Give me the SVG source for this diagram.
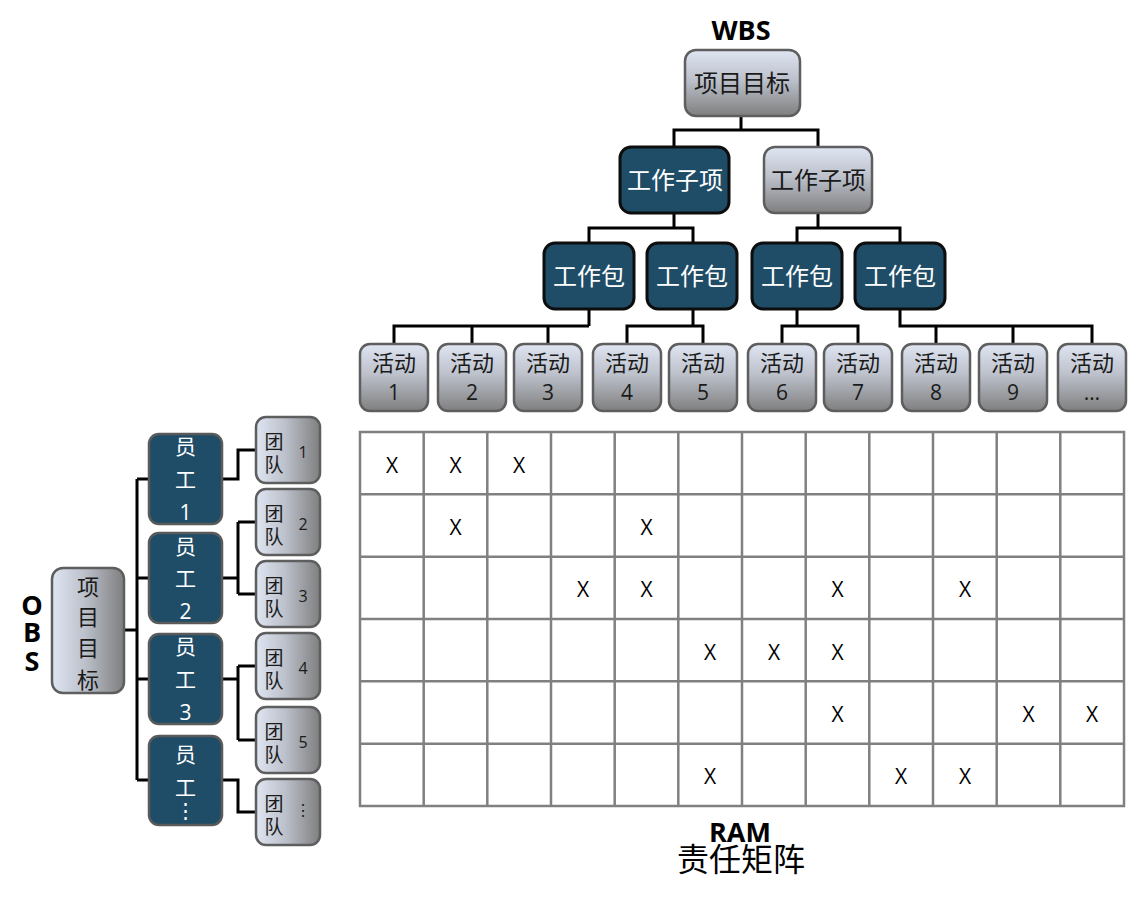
<svg xmlns="http://www.w3.org/2000/svg" width="1132" height="899" viewBox="0 0 1132 899">
<defs>
<linearGradient id="gv" x1="0" y1="0" x2="0" y2="1">
<stop offset="0" stop-color="#dfe5f2"/>
<stop offset="0.45" stop-color="#bcc1cb"/>
<stop offset="1" stop-color="#7f7f7f"/>
</linearGradient>
<linearGradient id="gh" x1="0" y1="0" x2="1" y2="0">
<stop offset="0" stop-color="#dfe5f2"/>
<stop offset="0.45" stop-color="#bcc1cb"/>
<stop offset="1" stop-color="#7f7f7f"/>
</linearGradient>
<style>
.lv{fill:url(#gv);stroke:#5e5e5e;stroke-width:2.5}
.lh{fill:url(#gh);stroke:#5e5e5e;stroke-width:2.5}
.dk{fill:#1f4d67;stroke:#0d0d0d;stroke-width:3}
.de{fill:#1f4d67;stroke:#5a5a5a;stroke-width:2.5}
.cn{fill:none;stroke:#000;stroke-width:3}
.grid{fill:none;stroke:#808080;stroke-width:2.5}
.cj{font-family:"Noto Sans CJK SC","Liberation Sans",sans-serif;text-anchor:middle}
.la{font-family:"Open Sans","Liberation Sans",sans-serif;text-anchor:middle}
.t{font-size:24px;fill:#1a1a1a}
.w{font-size:24px;fill:#ffffff}
.ta{font-size:22px;fill:#1a1a1a}
.nm{font-size:21px;fill:#1a1a1a}
.ew{font-size:21px;fill:#ffffff}
.tm{font-size:19px;fill:#1a1a1a}
.tn{font-size:16px;fill:#1a1a1a}
.x{font-size:21px;fill:#000}
.hd{font-size:27px;font-weight:bold;fill:#000}
</style>
</defs>
<rect width="1132" height="899" fill="#ffffff"/>

<g id="connectors">
<path class="cn" d="M741,116 V130 M674,147 V130 H818 V147"/>
<path class="cn" d="M674,213 V228 M589,243 V228 H693 V243"/>
<path class="cn" d="M818,213 V228 M797,243 V228 H900 V243"/>
<path class="cn" d="M589,309 V326 M394,344 V326 H589 M472,326 V344 M548,326 V344"/>
<path class="cn" d="M693,309 V326 M627,344 V326 H703 V344"/>
<path class="cn" d="M797,309 V326 M782,344 V326 H858 V344"/>
<path class="cn" d="M900,309 V326 H1092 V344 M936,326 V344 M1013,326 V344"/>
<path class="cn" d="M125,630 H137 M137,479 V780 M137,479 H149 M137,578 H149 M137,679 H149 M137,780 H149"/>
<path class="cn" d="M222,479 H238 V450 H256"/>
<path class="cn" d="M222,578 H238 M238,522 V594 M238,522 H256 M238,594 H256"/>
<path class="cn" d="M222,679 H238 M238,666 V740 M238,666 H256 M238,740 H256"/>
<path class="cn" d="M222,780 H238 V812 H256"/>
</g>

<text class="la hd" x="741" y="40">WBS</text>

<g id="wbs-root"><rect class="lv" x="685" y="50" width="115" height="66" rx="11"/><text class="cj t" x="742" y="92">项目目标</text></g>
<g id="wbs-sub1"><rect class="dk" x="620" y="147" width="109" height="66" rx="11"/><text class="cj w" x="675" y="189">工作子项</text></g>
<g id="wbs-sub2"><rect class="lv" x="764" y="147" width="108" height="66" rx="11"/><text class="cj t" x="818" y="189">工作子项</text></g>
<g id="wp1"><rect class="dk" x="544" y="243" width="90" height="66" rx="11"/><text class="cj w" x="589" y="285">工作包</text></g>
<g id="wp2"><rect class="dk" x="647" y="243" width="90" height="66" rx="11"/><text class="cj w" x="692" y="285">工作包</text></g>
<g id="wp3"><rect class="dk" x="752" y="243" width="90" height="66" rx="11"/><text class="cj w" x="797" y="285">工作包</text></g>
<g id="wp4"><rect class="dk" x="855" y="243" width="90" height="66" rx="11"/><text class="cj w" x="900" y="285">工作包</text></g>

<g id="act1"><rect class="lv" x="360" y="344" width="68" height="67" rx="10"/><text class="cj ta" x="394" y="371">活动</text><text class="la nm" x="394" y="400">1</text></g>
<g id="act2"><rect class="lv" x="438" y="344" width="68" height="67" rx="10"/><text class="cj ta" x="472" y="371">活动</text><text class="la nm" x="472" y="400">2</text></g>
<g id="act3"><rect class="lv" x="514" y="344" width="68" height="67" rx="10"/><text class="cj ta" x="548" y="371">活动</text><text class="la nm" x="548" y="400">3</text></g>
<g id="act4"><rect class="lv" x="593" y="344" width="68" height="67" rx="10"/><text class="cj ta" x="627" y="371">活动</text><text class="la nm" x="627" y="400">4</text></g>
<g id="act5"><rect class="lv" x="669" y="344" width="68" height="67" rx="10"/><text class="cj ta" x="703" y="371">活动</text><text class="la nm" x="703" y="400">5</text></g>
<g id="act6"><rect class="lv" x="748" y="344" width="68" height="67" rx="10"/><text class="cj ta" x="782" y="371">活动</text><text class="la nm" x="782" y="400">6</text></g>
<g id="act7"><rect class="lv" x="824" y="344" width="68" height="67" rx="10"/><text class="cj ta" x="858" y="371">活动</text><text class="la nm" x="858" y="400">7</text></g>
<g id="act8"><rect class="lv" x="902" y="344" width="68" height="67" rx="10"/><text class="cj ta" x="936" y="371">活动</text><text class="la nm" x="936" y="400">8</text></g>
<g id="act9"><rect class="lv" x="979" y="344" width="68" height="67" rx="10"/><text class="cj ta" x="1013" y="371">活动</text><text class="la nm" x="1013" y="400">9</text></g>
<g id="act10"><rect class="lv" x="1058" y="344" width="68" height="67" rx="10"/><text class="cj ta" x="1092" y="371">活动</text><text class="la nm" x="1092" y="400">…</text></g>

<text class="la hd" x="32" y="615">O</text>
<text class="la hd" x="32" y="642">B</text>
<text class="la hd" x="32" y="671">S</text>

<g id="obs-root"><rect class="lh" x="52" y="568" width="72" height="125" rx="11"/>
<text class="cj ta" x="88" y="595">项</text><text class="cj ta" x="88" y="625">目</text><text class="cj ta" x="88" y="656">目</text><text class="cj ta" x="88" y="688">标</text></g>

<g id="emp1"><rect class="de" x="149" y="434" width="73" height="90" rx="10"/><text class="cj ew" x="185.5" y="454">员</text><text class="cj ew" x="185.5" y="487">工</text><text class="la ew" x="185.5" y="520">1</text></g>
<g id="emp2"><rect class="de" x="149" y="533" width="73" height="90" rx="10"/><text class="cj ew" x="185.5" y="554">员</text><text class="cj ew" x="185.5" y="586">工</text><text class="la ew" x="185.5" y="619">2</text></g>
<g id="emp3"><rect class="de" x="149" y="634" width="73" height="90" rx="10"/><text class="cj ew" x="185.5" y="654">员</text><text class="cj ew" x="185.5" y="687">工</text><text class="la ew" x="185.5" y="720">3</text></g>
<g id="emp4"><rect class="de" x="149" y="736" width="73" height="89" rx="10"/><text class="cj ew" x="185.5" y="762">员</text><text class="cj ew" x="185.5" y="795">工</text><text class="la ew" x="185.5" y="818">⋮</text></g>

<g id="team1"><rect class="lh" x="256" y="417" width="64" height="66" rx="10"/><text class="cj tm" x="274" y="449">团</text><text class="cj tm" x="274" y="472">队</text><text class="la tn" x="303" y="458">1</text></g>
<g id="team2"><rect class="lh" x="256" y="489" width="64" height="66" rx="10"/><text class="cj tm" x="274" y="521">团</text><text class="cj tm" x="274" y="544">队</text><text class="la tn" x="303" y="530">2</text></g>
<g id="team3"><rect class="lh" x="256" y="561" width="64" height="66" rx="10"/><text class="cj tm" x="274" y="593">团</text><text class="cj tm" x="274" y="616">队</text><text class="la tn" x="303" y="602">3</text></g>
<g id="team4"><rect class="lh" x="256" y="633" width="64" height="66" rx="10"/><text class="cj tm" x="274" y="665">团</text><text class="cj tm" x="274" y="688">队</text><text class="la tn" x="303" y="674">4</text></g>
<g id="team5"><rect class="lh" x="256" y="707" width="64" height="66" rx="10"/><text class="cj tm" x="274" y="739">团</text><text class="cj tm" x="274" y="762">队</text><text class="la tn" x="303" y="748">5</text></g>
<g id="team6"><rect class="lh" x="256" y="779" width="64" height="66" rx="10"/><text class="cj tm" x="274" y="811">团</text><text class="cj tm" x="274" y="834">队</text><text class="la tn" x="303" y="816">⋮</text></g>

<g id="ram-matrix">
<rect class="grid" x="360" y="432" width="764" height="374"/>
<path class="grid" d="M423.7,432V806 M487.3,432V806 M551,432V806 M614.7,432V806 M678.3,432V806 M742,432V806 M805.7,432V806 M869.3,432V806 M933,432V806 M996.7,432V806 M1060.3,432V806 M360,494.3H1124 M360,556.7H1124 M360,619H1124 M360,681.3H1124 M360,743.7H1124"/>
<g class="la x">
<text x="392" y="473">X</text><text x="455.5" y="473">X</text><text x="519" y="473">X</text>
<text x="455.5" y="535">X</text><text x="646.5" y="535">X</text>
<text x="583" y="597">X</text><text x="646.5" y="597">X</text><text x="837.5" y="597">X</text><text x="965" y="597">X</text>
<text x="710" y="660">X</text><text x="774" y="660">X</text><text x="837.5" y="660">X</text>
<text x="837.5" y="722">X</text><text x="1028.5" y="722">X</text><text x="1092" y="722">X</text>
<text x="710" y="784">X</text><text x="901" y="784">X</text><text x="965" y="784">X</text>
</g>
</g>

<text class="la hd" x="740" y="842">RAM</text>
<text class="cj" x="741" y="871" style="font-size:32px;fill:#000">责任矩阵</text>
</svg>
